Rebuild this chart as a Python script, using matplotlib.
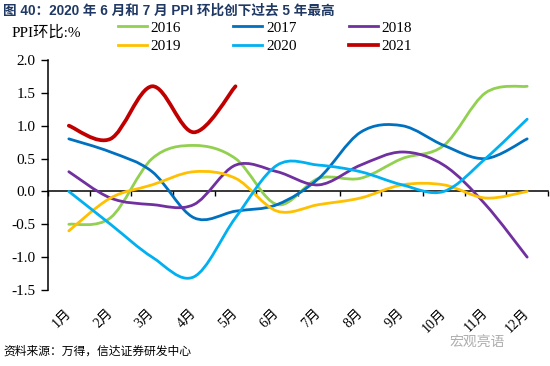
import numpy as np
import matplotlib
matplotlib.use("Agg")
import matplotlib.pyplot as plt
from matplotlib.path import Path
from matplotlib.patches import PathPatch
from matplotlib.lines import Line2D

months = ["1月", "2月", "3月", "4月", "5月", "6月", "7月", "8月", "9月", "10月", "11月", "12月"]
y2016 = [-0.5, -0.4, 0.5, 0.7, 0.5, -0.2, 0.2, 0.2, 0.5, 0.7, 1.5, 1.6]
y2017 = [0.8, 0.6, 0.3, -0.4, -0.3, -0.2, 0.2, 0.9, 1.0, 0.7, 0.5, 0.8]
y2018 = [0.3, -0.1, -0.2, -0.2, 0.4, 0.3, 0.1, 0.4, 0.6, 0.4, -0.2, -1.0]
y2019 = [-0.6, -0.1, 0.1, 0.3, 0.2, -0.3, -0.2, -0.1, 0.1, 0.1, -0.1, 0.0]
y2020 = [0.0, -0.5, -1.0, -1.3, -0.4, 0.4, 0.4, 0.3, 0.1, 0.0, 0.5, 1.1]
y2021 = [1.0, 0.8, 1.6, 0.9, 1.6]
series_labels = ["2016", "2017", "2018", "2019", "2020", "2021"]
yticks = [-1.5, -1.0, -0.5, 0.0, 0.5, 1.0, 1.5, 2.0]

colors = ["#92D050", "#0070C0", "#7030A0", "#FFC000", "#00B0F0", "#C00000"]
widths = [2.0, 2.0, 2.0, 2.0, 2.0, 2.7]

SERIF = ["Liberation Serif", "Noto Sans CJK SC"]
SANS = ["Liberation Sans", "Noto Sans CJK SC"]


def smooth_path(xs, ys):
    pts = np.column_stack([xs, ys]).astype(float)
    n = len(pts)
    verts = [pts[0]]
    codes = [Path.MOVETO]
    for i in range(n - 1):
        p0 = pts[i - 1] if i > 0 else pts[i]
        p1 = pts[i]
        p2 = pts[i + 1]
        p3 = pts[i + 2] if i + 2 < n else pts[i + 1]
        c1 = p1 + (p2 - p0) / 6.0
        c2 = p2 - (p3 - p1) / 6.0
        verts += [c1, c2, p2]
        codes += [Path.CURVE4] * 3
    return Path(verts, codes)


fig = plt.figure(figsize=(5.5, 3.66), dpi=100)
ax = fig.add_axes([48 / 550, 1 - 290 / 366, 500 / 550, 230 / 366])

all_series = [y2016, y2017, y2018, y2019, y2020, y2021]
for vals, c, lw in zip(all_series, colors, widths):
    xs = np.arange(1, len(vals) + 1)
    patch = PathPatch(smooth_path(xs, vals), fill=False, edgecolor=c, lw=lw,
                      capstyle="round", joinstyle="round", zorder=3)
    ax.add_patch(patch)

ax.set_xlim(0.5, 12.5)
ax.set_ylim(-1.5, 2.0)
ax.set_yticks(yticks)
ax.set_yticklabels([f"{v:.1f}" for v in yticks], family=SERIF, fontsize=11)
ax.tick_params(axis="y", direction="out", length=5, width=1, pad=4)

ax.spines["top"].set_visible(False)
ax.spines["right"].set_visible(False)
ax.spines["left"].set_linewidth(1.1)
ax.spines["bottom"].set_position(("data", 0))
ax.spines["bottom"].set_linewidth(1.1)
ax.set_xticks(np.arange(0.5, 13.0, 1.0))
ax.set_xticklabels([])
ax.tick_params(axis="x", direction="out", length=3.5, width=1)

sec = ax.secondary_xaxis("bottom")
sec.set_xticks(np.arange(1, 13), months)
sec.spines["bottom"].set_visible(False)
sec.tick_params(axis="x", length=0, pad=15)
for lab in sec.get_xticklabels():
    lab.set_rotation(45)
    lab.set_ha("right")
    lab.set_va("center")
    lab.set_rotation_mode("anchor")
    lab.set_family(SERIF)
    lab.set_fontsize(10)

# legend filled row by row (matplotlib fills column-wise)
order = [0, 3, 1, 4, 2, 5]
handles = [Line2D([], [], color=colors[i], lw=widths[i]) for i in order]
labels = [series_labels[i] for i in order]
leg = fig.legend(handles, labels, loc="upper left", bbox_to_anchor=(118 / 550, 1 - 21 / 366),
                 ncol=3, frameon=False, handlelength=1.9, handletextpad=0.25, columnspacing=3.4,
                 labelspacing=0.3, borderpad=0, borderaxespad=0,
                 prop={"family": SERIF, "size": 11})

fig.text(12 / 550, 1 - 33 / 366, "PPI环比:%", family=SERIF, fontsize=11, va="center", ha="left")
fig.text(3 / 550, 1 - 11 / 366, "图 40：2020 年 6 月和 7 月 PPI 环比创下过去 5 年最高", family=SANS,
         fontsize=9.8, fontweight="bold", color="#1F3864", va="center", ha="left")
fig.text(3 / 550, 1 - 352 / 366, "资料来源：万得，信达证券研发中心", family=SANS, fontsize=8.5,
         style="italic", va="center", ha="left")
fig.text(505 / 550, 1 - 343 / 366, "宏观亮语", family=SANS, fontsize=10, color="#9a9a9a",
         va="center", ha="right", alpha=0.8)

fig.savefig("out.png", dpi=100)
